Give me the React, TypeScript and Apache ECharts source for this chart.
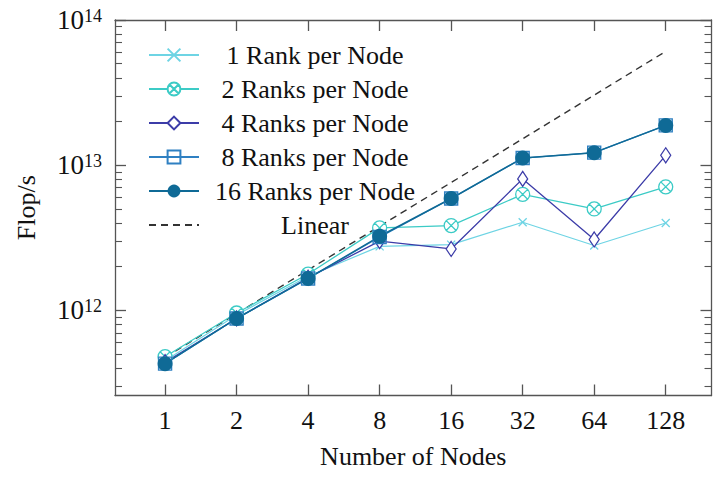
import React, { useEffect, useRef } from "react";
import * as echarts from "echarts";

// Node counts on the x axis
const nodes = [1, 2, 4, 8, 16, 32, 64, 128];

// Measured throughput (Flop/s) per ranks-per-node configuration
const rank1 = [4.5e11, 9.3e11, 1.72e12, 2.76e12, 2.84e12, 4.05e12, 2.8e12, 4.0e12];
const rank2 = [4.8e11, 9.6e11, 1.78e12, 3.7e12, 3.84e12, 6.3e12, 5.0e12, 7.1e12];
const rank4 = [4.4e11, 8.8e11, 1.68e12, 3.0e12, 2.65e12, 8.05e12, 3.08e12, 1.17e13];
const rank8 = [4.3e11, 8.8e11, 1.66e12, 3.2e12, 5.9e12, 1.12e13, 1.22e13, 1.88e13];
const rank16 = [4.3e11, 8.8e11, 1.66e12, 3.24e12, 5.9e12, 1.12e13, 1.22e13, 1.88e13];
// Ideal linear scaling reference
const linear = [4.75e11, 9.5e11, 1.9e12, 3.8e12, 7.6e12, 1.52e13, 3.04e13, 6.08e13];

// Major y ticks (decades)
const yMajor = [1e12, 1e13, 1e14];
const yMinorDecades = [11, 12, 13];

const FONT = "'Liberation Serif', 'Times New Roman', serif";
const AXIS_COLOR = "#555555";
const TEXT_COLOR = "#111111";

const crossSymbol = "path://M0,0L10,10M0,10L10,0";
const otimesSymbol =
  "path://M10,5A5,5,0,1,1,0,5A5,5,0,1,1,10,5Z M1.46,1.46L8.54,8.54M1.46,8.54L8.54,1.46";

export default function App() {
  const ref = useRef<HTMLDivElement>(null);

  useEffect(() => {
    if (!ref.current) return;
    const chart = echarts.init(ref.current, null, { renderer: "svg" });

    const yMin = Math.pow(10, 11.414);
    const yMax = 1e14;
    const xMin = Math.pow(2, -0.7);
    const xMax = Math.pow(2, 7.64);

    const yMinor: number[] = [];
    yMinorDecades.forEach((d) => {
      for (let k = 2; k <= 9; k++) {
        const v = k * Math.pow(10, d);
        if (v > yMin && v < yMax) yMinor.push(v);
      }
    });

    const pts = (arr: number[]) => nodes.map((n, i) => [n, arr[i]]);

    const baseX = {
      type: "log" as const,
      logBase: 2,
      min: xMin,
      max: xMax,
      splitLine: { show: false },
      axisLine: { show: true, lineStyle: { color: AXIS_COLOR, width: 1.3 } },
    };
    const baseY = {
      type: "log" as const,
      logBase: 10,
      min: yMin,
      max: yMax,
      splitLine: { show: false },
    };
    const tick = (values: number[], len: number, width: number) => ({
      show: true,
      inside: true,
      length: len,
      customValues: values,
      lineStyle: { color: AXIS_COLOR, width },
    });

    const mk = (
      name: string,
      data: number[],
      color: string,
      symbol: string,
      symbolSize: number | number[],
      fill: string,
      border: number,
      width = 1.3
    ) => ({
      name,
      type: "line",
      data: pts(data),
      xAxisIndex: 0,
      yAxisIndex: 0,
      symbol,
      symbolSize,
      showSymbol: true,
      color,
      lineStyle: { color, width },
      itemStyle: { color: fill, borderColor: color, borderWidth: border },
      emphasis: { disabled: true },
      z: 3,
    });

    chart.setOption({
      animation: false,
      grid: { left: 115, top: 20, right: 2.5, bottom: 81.5 },
      legend: {
        orient: "vertical",
        left: 143,
        top: 37,
        itemWidth: 50,
        itemHeight: 16,
        itemGap: 8,
        selectedMode: false,
        formatter: (name: string) => `{c|${name}}`,
        textStyle: {
          fontFamily: FONT,
          fontSize: 26,
          color: TEXT_COLOR,
          rich: {
            c: { width: 222, align: "center", fontFamily: FONT, fontSize: 26, color: TEXT_COLOR },
          },
        },
        data: [
          "1 Rank per Node",
          "2 Ranks per Node",
          "4 Ranks per Node",
          "8 Ranks per Node",
          "16 Ranks per Node",
          { name: "Linear", itemStyle: { opacity: 0 } },
        ],
      },
      xAxis: [
        {
          ...baseX,
          position: "bottom",
          name: "Number of Nodes",
          nameLocation: "middle",
          nameGap: 48,
          nameTextStyle: { fontFamily: FONT, fontSize: 26, color: TEXT_COLOR },
          axisTick: tick(nodes, 11, 1.3),
          axisLabel: {
            show: true,
            customValues: nodes,
            margin: 12,
            fontFamily: FONT,
            fontSize: 26,
            color: TEXT_COLOR,
            formatter: (v: number) => String(Math.round(v)),
          },
        },
        {
          ...baseX,
          position: "top",
          axisTick: tick(nodes, 11, 1.3),
          axisLabel: { show: false },
        },
      ],
      yAxis: [
        {
          ...baseY,
          position: "left",
          name: "Flop/s",
          nameLocation: "middle",
          nameGap: 76,
          nameTextStyle: { fontFamily: FONT, fontSize: 26, color: TEXT_COLOR },
          axisLine: { show: true, lineStyle: { color: AXIS_COLOR, width: 1.3 } },
          axisTick: tick(yMajor, 11, 1.3),
          axisLabel: {
            show: true,
            customValues: yMajor,
            margin: 13,
            formatter: (v: number) => `{b|10}{s|${Math.round(Math.log10(v))}}`,
            rich: {
              b: { fontFamily: FONT, fontSize: 27, color: TEXT_COLOR },
              s: { fontFamily: FONT, fontSize: 18, color: TEXT_COLOR, verticalAlign: "top" },
            },
          },
        },
        {
          ...baseY,
          position: "right",
          axisLine: { show: true, lineStyle: { color: AXIS_COLOR, width: 1.3 } },
          axisTick: tick(yMajor, 11, 1.3),
          axisLabel: { show: false },
        },
        {
          ...baseY,
          position: "left",
          axisLine: { show: false },
          axisTick: tick(yMinor, 7, 1.1),
          axisLabel: { show: false },
        },
        {
          ...baseY,
          position: "right",
          axisLine: { show: false },
          axisTick: tick(yMinor, 7, 1.1),
          axisLabel: { show: false },
        },
      ],
      series: [
        {
          name: "Linear",
          type: "line",
          data: pts(linear),
          xAxisIndex: 0,
          yAxisIndex: 0,
          symbol: "none",
          color: "#333333",
          lineStyle: { color: "#333333", width: 1.4, type: [7, 5] },
          emphasis: { disabled: true },
          z: 2,
        },
        mk("1 Rank per Node", rank1, "#6ed4e4", crossSymbol, 8, "none", 1.3, 1.2),
        mk("2 Ranks per Node", rank2, "#3ccbc6", otimesSymbol, 14, "#ffffff", 1.3),
        mk("4 Ranks per Node", rank4, "#3c3ca8", "diamond", [10, 15], "#ffffff", 1.3),
        mk("8 Ranks per Node", rank8, "#2f80c2", "rect", 13, "none", 1.4),
        mk("16 Ranks per Node", rank16, "#0f6a96", "circle", 15, "#0f6a96", 0, 1.5),
      ],
    });

    return () => chart.dispose();
  }, []);

  return (
    <div
      ref={ref}
      style={{ position: "fixed", left: 0, top: 0, width: 714, height: 477, background: "#fff" }}
    />
  );
}
